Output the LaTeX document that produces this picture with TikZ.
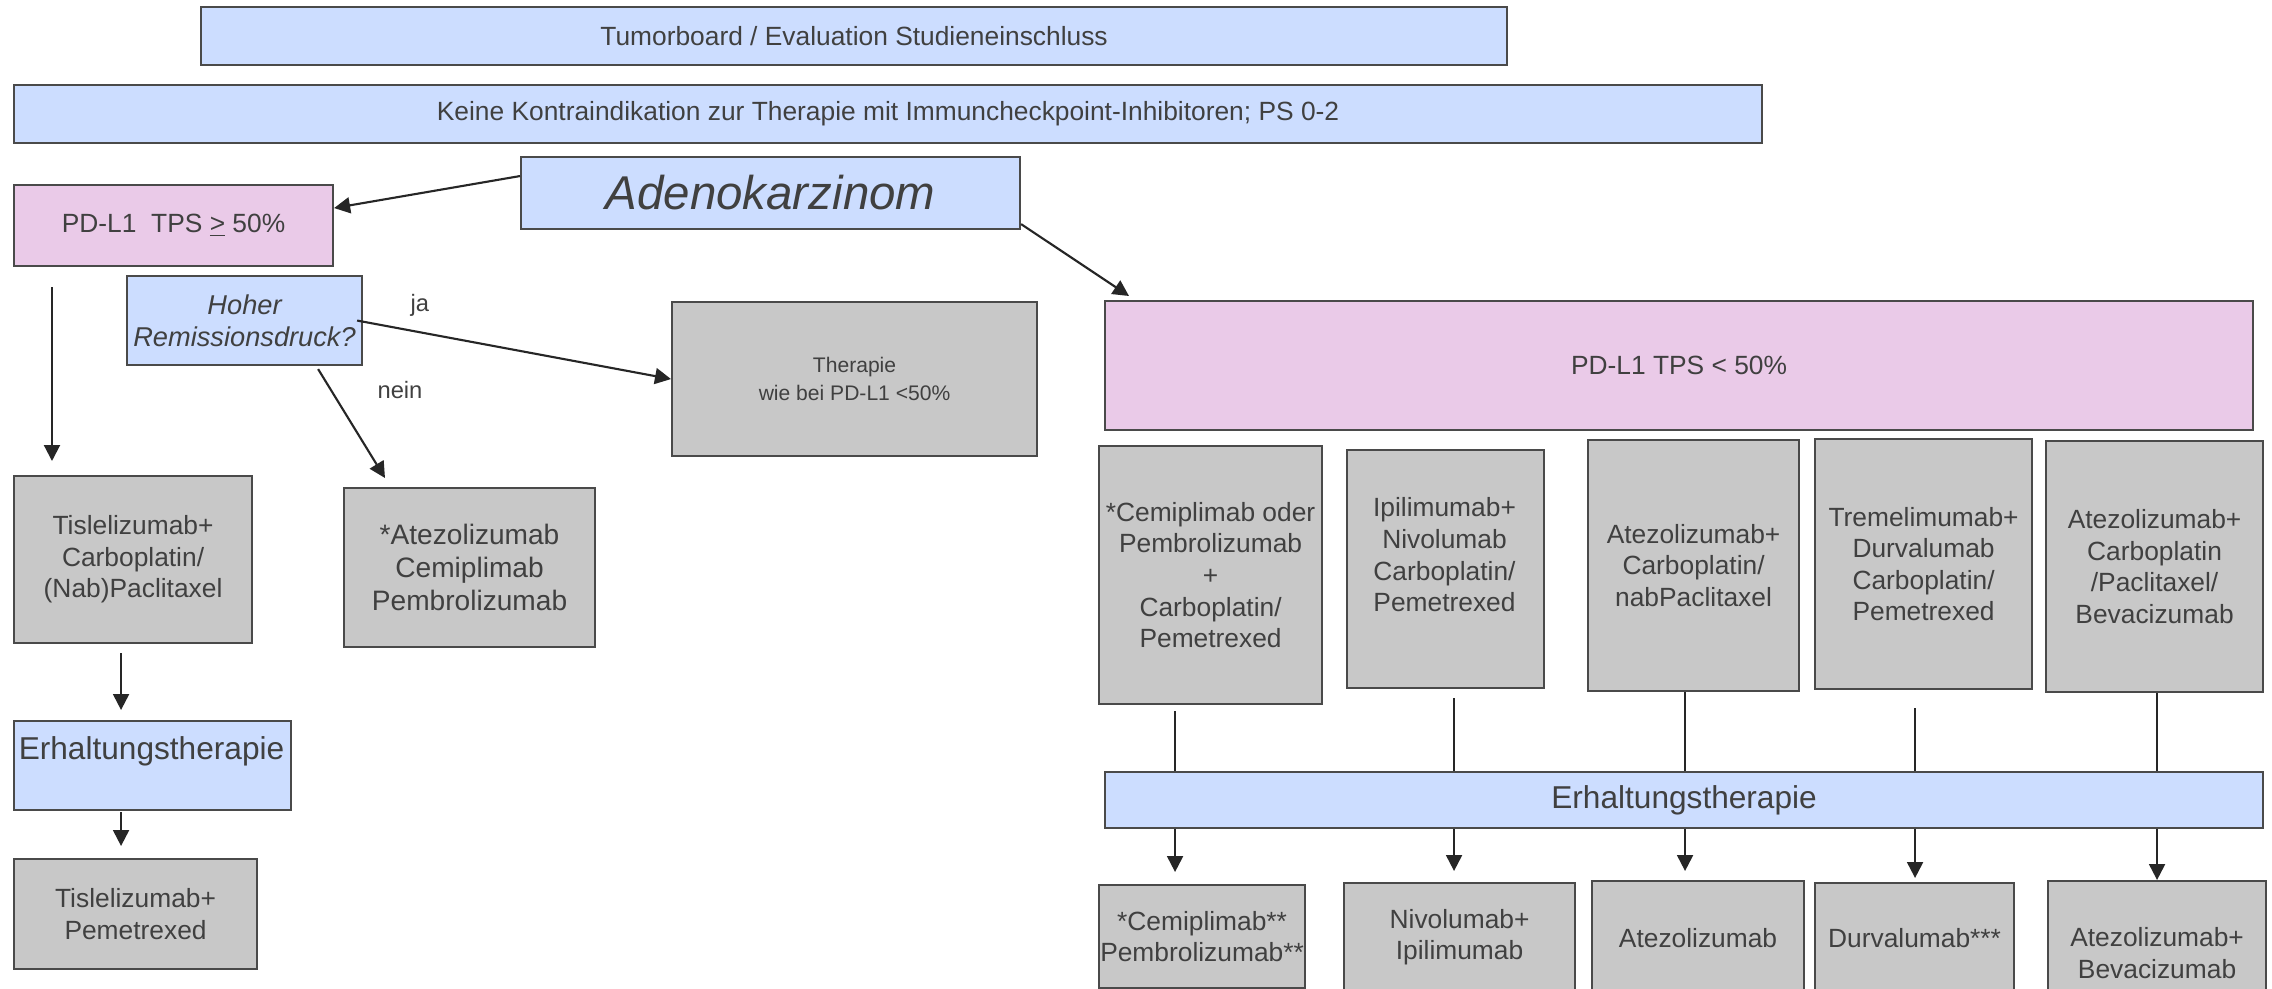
\documentclass[tikz,border=0pt]{standalone}
\usepackage{fontspec}
\setmainfont{Liberation Sans}
\usetikzlibrary{arrows.meta}
\definecolor{blueF}{HTML}{CCDDFF}
\definecolor{pinkF}{HTML}{EACAE8}
\definecolor{grayF}{HTML}{C8C8C8}
\definecolor{bordc}{HTML}{4A4A4A}
\definecolor{txtc}{HTML}{404040}
\definecolor{arrc}{HTML}{262626}
\newcommand\bx[7]{\node[#6, anchor=north west, minimum width={(#4-#2)*0.02cm}, minimum height={(#5-#3)*0.02cm}] (#1) at (#2,#3) {#7};}
\tikzset{
  base/.style={draw=bordc, line width=1.2pt, inner sep=0pt, align=center, text=txtc, font=\fontsize{15}{18}\selectfont},
  bluebox/.style={base, fill=blueF},
  pinkbox/.style={base, fill=pinkF},
  graybox/.style={base, fill=grayF},
  lbl/.style={text=txtc, inner sep=0pt, align=center, font=\fontsize{15}{18}\selectfont},
  arr/.style={draw=arrc, line width=1.2pt, -{Triangle[length=0.32cm,width=0.32cm]}},
  ln/.style={draw=arrc, line width=1.2pt},
}
\begin{document}
\begin{tikzpicture}[x=0.02cm,y=-0.02cm]
\useasboundingbox (0,0) rectangle (2272,989);
\clip (0,0) rectangle (2272,989);
\fill[white] (0,0) rectangle (2272,989);
% top
\bx{tb}{200}{6}{1506}{64}{bluebox}{Tumorboard / Evaluation Studieneinschluss}
\bx{keine}{13}{84}{1761}{142}{bluebox}{Keine Kontraindikation zur Therapie mit Immuncheckpoint-Inhibitoren; PS 0-2}
\bx{adeno}{520}{156}{1019}{228}{bluebox,font=\fontsize{27}{32}\itshape}{Adenokarzinom}
% left branch
\bx{pdhigh}{13}{184}{332}{265}{pinkbox}{PD-L1~~TPS \underline{>}~50\%}
\bx{hoher}{126}{275}{361}{364}{bluebox,font=\fontsize{15.5}{18.5}\itshape}{Hoher\\Remissionsdruck?}
\bx{ther}{671}{301}{1036}{455}{graybox,font=\fontsize{12}{15.5}\selectfont}{Therapie\\wie bei PD-L1 <50\%}
\bx{tisl}{13}{475}{251}{642}{graybox}{Tislelizumab+\\Carboplatin/\\(Nab)Paclitaxel}
\bx{atez}{343}{487}{594}{646}{graybox,font=\fontsize{16}{19}\selectfont}{*Atezolizumab\\Cemiplimab\\Pembrolizumab}
\bx{erhL}{13}{720}{290}{809}{bluebox}{}
\node[lbl,font=\fontsize{18}{21}\selectfont] (erhLt) at (151.5,751) {Erhaltungstherapie};
\bx{tislP}{13}{858}{256}{968}{graybox}{Tislelizumab+\\Pemetrexed}
% right branch
\bx{pdlow}{1104}{300}{2252}{429}{pinkbox}{PD-L1 TPS < 50\%}
\bx{c1}{1098}{445}{1321}{703}{graybox}{*Cemiplimab oder\\Pembrolizumab\\+\\Carboplatin/\\Pemetrexed}
\bx{c2}{1346}{449}{1543}{687}{graybox}{}
\node[lbl] (c2t) at (1444.5,555) {Ipilimumab+\\Nivolumab\\Carboplatin/\\Pemetrexed};
\bx{c3}{1587}{439}{1798}{690}{graybox}{Atezolizumab+\\Carboplatin/\\nabPaclitaxel}
\bx{c4}{1814}{438}{2031}{688}{graybox}{Tremelimumab+\\Durvalumab\\Carboplatin/\\Pemetrexed}
\bx{c5}{2045}{440}{2262}{691}{graybox}{Atezolizumab+\\Carboplatin\\/Paclitaxel/\\Bevacizumab}
\bx{erhR}{1104}{771}{2262}{827}{bluebox,font=\fontsize{18}{21}\selectfont}{Erhaltungstherapie}
\bx{b1}{1098}{884}{1304}{987}{graybox}{*Cemiplimab**\\Pembrolizumab**}
\bx{b2}{1343}{882}{1574}{990}{graybox}{Nivolumab+\\Ipilimumab}
\bx{b3}{1591}{880}{1803}{994}{graybox}{Atezolizumab}
\bx{b4}{1814}{882}{2013}{992}{graybox}{Durvalumab***}
\bx{b5}{2047}{880}{2265}{1024}{graybox}{Atezolizumab+\\Bevacizumab}
% connectors left
\draw[arr] ([yshift=0.34cm]adeno.west) -- ([yshift=0.35cm]pdhigh.east);
\draw[arr] ([yshift=0.12cm]adeno.south east) -- ([xshift=0.5cm,yshift=0.08cm]pdlow.north west);
\draw[arr] ([xshift=0.78cm,yshift=-0.4cm]pdhigh.south west) -- ([xshift=0.78cm,yshift=0.28cm]tisl.north west);
\draw[arr] ([xshift=-0.12cm]hoher.east) -- (ther.west) node[pos=0.2, above=0.3cm, lbl, font=\fontsize{13.5}{16}\selectfont] (ja) {ja};
\draw[arr] ([xshift=-0.9cm,yshift=-0.06cm]hoher.south east) -- ([xshift=0.84cm,yshift=0.18cm]atez.north west);
\node[lbl, font=\fontsize{13.5}{16}\selectfont] (nein) at (400,390) {nein};
\draw[arr] ([xshift=-0.24cm,yshift=-0.18cm]tisl.south) -- ([xshift=-0.24cm,yshift=0.2cm]tisl.south |- erhL.north);
\draw[arr] ([xshift=-0.24cm,yshift=-0.02cm]tisl.south |- erhL.south) -- ([xshift=-0.24cm,yshift=0.24cm]tisl.south |- tislP.north);
% connectors right
\draw[ln] ([xshift=-0.71cm,yshift=-0.12cm]c1.south) -- ([xshift=-0.71cm]c1.south |- erhR.north);
\draw[ln] ([xshift=0.17cm,yshift=-0.18cm]c2.south) -- ([xshift=0.17cm]c2.south |- erhR.north);
\draw[ln] ([xshift=-0.17cm]c3.south) -- ([xshift=-0.17cm]c3.south |- erhR.north);
\draw[ln] ([xshift=-0.17cm,yshift=-0.36cm]c4.south) -- ([xshift=-0.17cm]c4.south |- erhR.north);
\draw[ln] ([xshift=0.05cm]c5.south) -- ([xshift=0.05cm]c5.south |- erhR.north);
\draw[arr] ([xshift=-0.71cm]c1.south |- erhR.south) -- ([xshift=-0.71cm,yshift=0.24cm]c1.south |- b1.north);
\draw[arr] ([xshift=0.17cm]c2.south |- erhR.south) -- ([xshift=0.17cm,yshift=0.22cm]c2.south |- b2.north);
\draw[arr] ([xshift=-0.17cm]c3.south |- erhR.south) -- ([xshift=-0.17cm,yshift=0.18cm]c3.south |- b3.north);
\draw[arr] ([xshift=-0.17cm]c4.south |- erhR.south) -- ([xshift=-0.17cm,yshift=0.08cm]c4.south |- b4.north);
\draw[arr] ([xshift=0.05cm]c5.south |- erhR.south) -- ([xshift=0.05cm]c5.south |- b5.north);
\end{tikzpicture}
\end{document}
